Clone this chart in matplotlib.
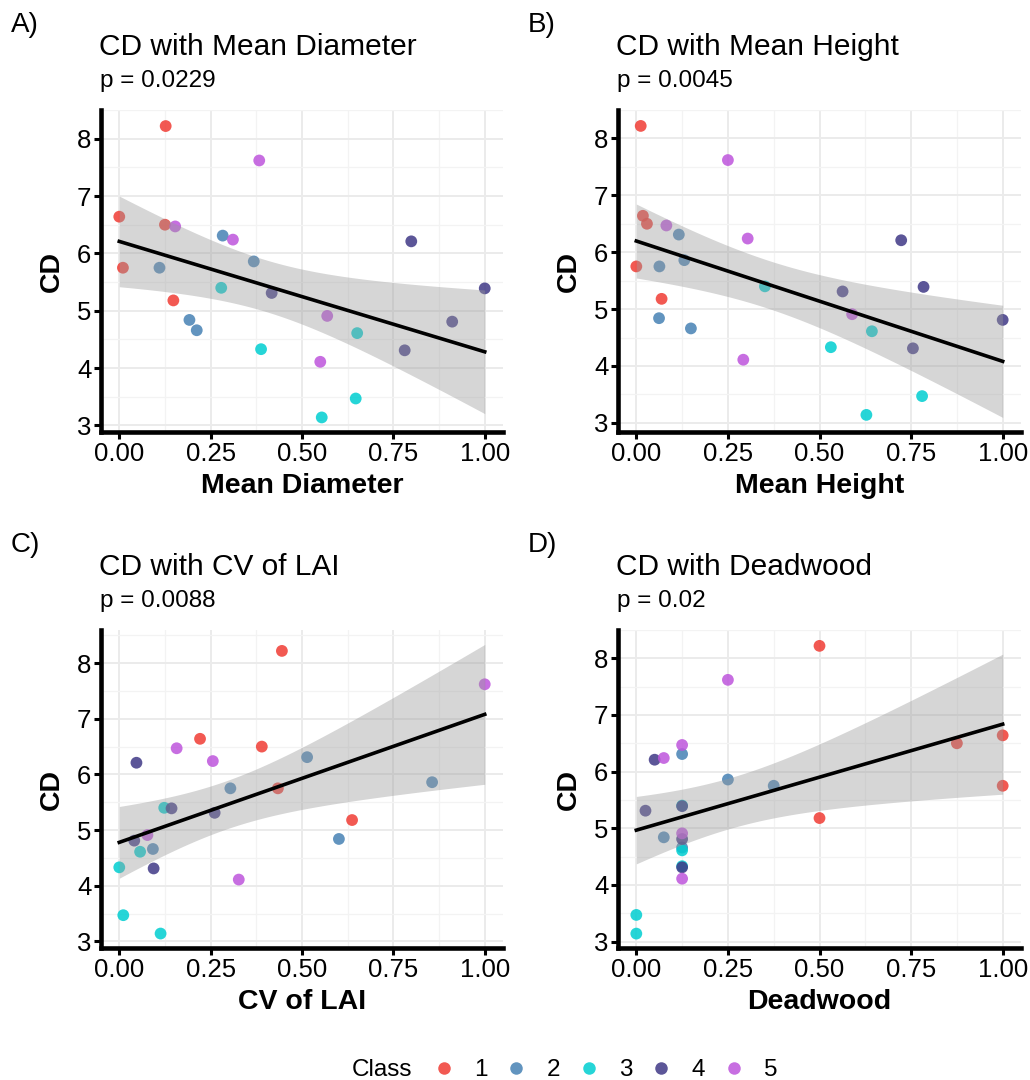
import numpy as np
import matplotlib
matplotlib.use("Agg")
import matplotlib.pyplot as plt
from matplotlib.lines import Line2D

plt.rcParams['font.family'] = ['Liberation Sans', 'DejaVu Sans']

# one entry per plot: class, CD and the four (scaled) predictors
plot_class = [1] * 5 + [2] * 5 + [3] * 5 + [4] * 5 + [5] * 5
cd = [8.22, 6.64, 6.50, 5.75, 5.18,
      6.31, 5.86, 5.75, 4.84, 4.66,
      5.40, 4.33, 4.61, 3.47, 3.14,
      6.21, 5.39, 5.31, 4.81, 4.31,
      7.62, 6.47, 6.24, 4.91, 4.11]
mean_diameter = [0.127, 0.0, 0.125, 0.01, 0.148,
                 0.283, 0.368, 0.110, 0.192, 0.212,
                 0.279, 0.388, 0.651, 0.647, 0.554,
                 0.799, 1.0, 0.417, 0.911, 0.781,
                 0.383, 0.153, 0.311, 0.569, 0.550]
mean_height = [0.012, 0.018, 0.029, 0.0, 0.069,
               0.116, 0.131, 0.063, 0.062, 0.149,
               0.351, 0.531, 0.643, 0.780, 0.628,
               0.723, 0.784, 0.563, 1.0, 0.755,
               0.250, 0.082, 0.304, 0.589, 0.292]
cv_lai = [0.445, 0.221, 0.390, 0.434, 0.637,
          0.514, 0.856, 0.304, 0.601, 0.092,
          0.123, 0.0, 0.057, 0.011, 0.113,
          0.047, 0.143, 0.261, 0.041, 0.094,
          1.0, 0.157, 0.256, 0.077, 0.327]
deadwood = [0.5, 1.0, 0.875, 1.0, 0.5,
            0.125, 0.25, 0.375, 0.075, 0.125,
            0.125, 0.125, 0.125, 0.0, 0.0,
            0.05, 0.125, 0.025, 0.125, 0.125,
            0.25, 0.125, 0.075, 0.125, 0.125]

class_labels = ['1', '2', '3', '4', '5']
class_colors = ['#F03C34', '#4682B4', '#00CED1', '#3F3886', '#BE55DC']

panel_letters = ['A)', 'B)', 'C)', 'D)']
panel_titles = ['CD with Mean Diameter', 'CD with Mean Height',
                'CD with CV of LAI', 'CD with Deadwood']
panel_xlabels = ['Mean Diameter', 'Mean Height', 'CV of LAI', 'Deadwood']
panel_p = ['p = 0.0229', 'p = 0.0045', 'p = 0.0088', 'p = 0.02']
panel_x = [mean_diameter, mean_height, cv_lai, deadwood]

T_CRIT = 2.0687  # t(0.975, df = 23)

W, H = 1030, 1080
fig = plt.figure(figsize=(W / 100, H / 100), dpi=100)

# panel boxes in pixels: left, top, right, bottom
boxes = [(101, 110, 503, 432), (618, 110, 1021, 432),
         (101, 630, 503, 948), (618, 630, 1021, 948)]

y = np.array(cd)
cols = [class_colors[c - 1] for c in plot_class]

for i in range(4):
    l, t, r, b = boxes[i]
    ax = fig.add_axes([l / W, 1 - b / H, (r - l) / W, (b - t) / H])
    x = np.array(panel_x[i])

    ax.scatter(x, y, s=72, c=cols, alpha=0.85, linewidths=0, zorder=2)

    # linear fit with 95% confidence band
    n = len(x)
    slope, icpt = np.polyfit(x, y, 1)
    resid = y - (icpt + slope * x)
    s = np.sqrt(np.sum(resid ** 2) / (n - 2))
    sxx = np.sum((x - x.mean()) ** 2)
    xs = np.linspace(x.min(), x.max(), 100)
    fit = icpt + slope * xs
    se = s * np.sqrt(1 / n + (xs - x.mean()) ** 2 / sxx)
    lo, hi = fit - T_CRIT * se, fit + T_CRIT * se
    ax.fill_between(xs, lo, hi, color='#999999', alpha=0.4, linewidth=0, zorder=3)
    ax.plot(xs, fit, color='black', lw=2.6, zorder=4)

    ymin = min(y.min(), lo.min())
    ymax = max(y.max(), hi.max())
    pad = 0.05 * (ymax - ymin)
    ax.set_ylim(ymin - pad, ymax + pad)
    ax.set_xlim(-0.05, 1.05)

    ax.set_xticks([0, 0.25, 0.5, 0.75, 1.0])
    ax.set_xticklabels(['0.00', '0.25', '0.50', '0.75', '1.00'])
    ax.set_xticks([0.125, 0.375, 0.625, 0.875], minor=True)
    ax.set_yticks([3, 4, 5, 6, 7, 8])
    ax.set_yticks([3.5, 4.5, 5.5, 6.5, 7.5, 8.5], minor=True)
    ax.grid(which='major', color='#EBEBEB', lw=1.4, zorder=0)
    ax.grid(which='minor', color='#F3F3F3', lw=0.9, zorder=0)
    ax.set_axisbelow(True)

    for side in ['top', 'right']:
        ax.spines[side].set_visible(False)
    for side in ['left', 'bottom']:
        ax.spines[side].set_linewidth(3.3)
        ax.spines[side].set_color('black')
    ax.tick_params(which='major', length=5, width=2.2, color='black',
                   labelsize=18.5, labelcolor='black', pad=2)
    ax.tick_params(which='minor', length=0)

    fig.text((l - 90) / W, 1 - (t - 78) / H, panel_letters[i], fontsize=20,
             ha='left', va='baseline')
    fig.text((l - 2) / W, 1 - (t - 55) / H, panel_titles[i], fontsize=21.5,
             ha='left', va='baseline')
    fig.text((l - 1) / W, 1 - (t - 23) / H, panel_p[i], fontsize=17.5,
             ha='left', va='baseline')
    fig.text((l + r) / 2 / W, 1 - (b + 61) / H, panel_xlabels[i], fontsize=20.5,
             fontweight='bold', ha='center', va='baseline')
    fig.text((l - 49) / W, 1 - (t + b) / 2 / H, 'CD', fontsize=20.5,
             fontweight='bold', rotation=90, ha='center', va='center')

handles = [Line2D([], [], marker='o', ls='', markersize=9, alpha=0.85,
                  markerfacecolor=c, markeredgewidth=0) for c in class_colors]
fig.legend(handles, class_labels, ncol=5, loc='center left',
           bbox_to_anchor=(434 / W, 1 - 1070 / H), frameon=False, fontsize=17.5,
           handlelength=0.8, handletextpad=0.85, columnspacing=0.78,
           borderaxespad=0, borderpad=0)
fig.text(352 / W, 1 - 1070 / H, 'Class', fontsize=17.5, ha='left', va='center')

fig.savefig('out.png', dpi=100)
